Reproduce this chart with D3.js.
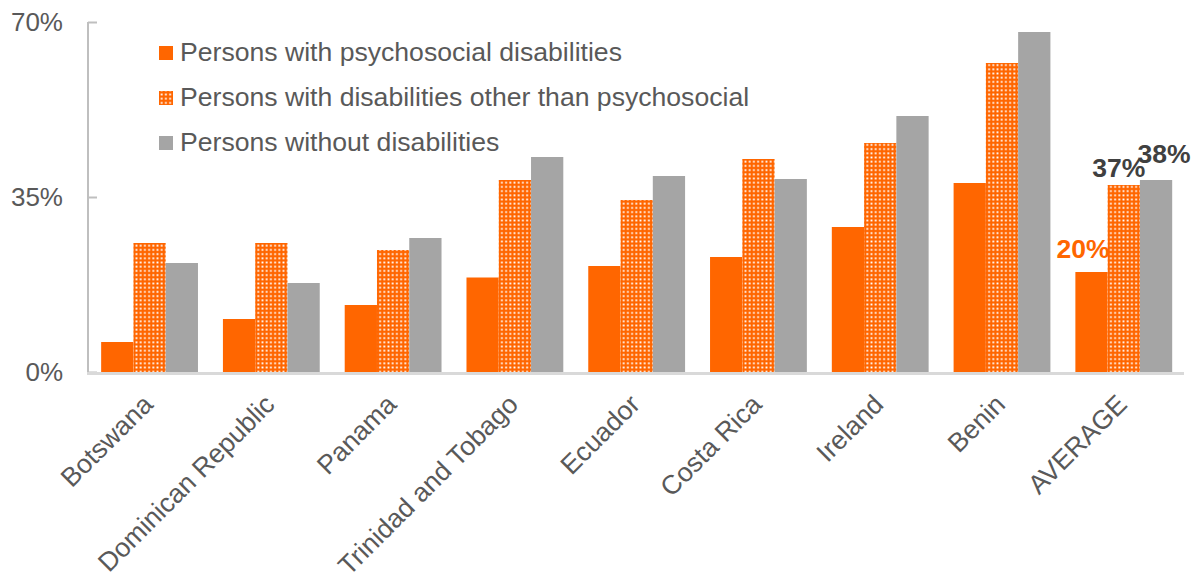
<!DOCTYPE html>
<html>
<head>
<meta charset="utf-8">
<script src="https://cdn.jsdelivr.net/npm/d3@7"></script>
<style>
  html, body { margin: 0; padding: 0; background: #fff; }
  svg { display: block; font-family: "Liberation Sans", Arial, sans-serif; }
</style>
</head>
<body>
<svg id="chart" width="1195" height="574"></svg>
<script>
const categories = ["Botswana", "Dominican Republic", "Panama", "Trinidad and Tobago", "Ecuador", "Costa Rica", "Ireland", "Benin", "AVERAGE"];
const seriesNames = ["Persons with psychosocial disabilities", "Persons with disabilities other than psychosocial", "Persons without disabilities"];
const psychosocial = [6.0, 10.6, 13.4, 18.9, 21.2, 23.0, 29.0, 37.8, 20.0];
const otherDisab = [25.8, 25.8, 24.4, 38.4, 34.4, 42.6, 45.8, 61.8, 37.4];
const noDisab = [21.8, 17.8, 26.8, 43.0, 39.2, 38.6, 51.2, 68.0, 38.4];
const yTicks = [0, 35, 70];
const averageLabels = ["20%", "37%", "38%"];

const series = [psychosocial, otherDisab, noDisab];
const svg = d3.select("#chart");

const defs = svg.append("defs");
const pat = defs.append("pattern").attr("id", "dots").attr("patternUnits", "userSpaceOnUse")
  .attr("width", 4.2).attr("height", 4.2);
pat.append("rect").attr("width", 4.2).attr("height", 4.2).attr("fill", "#ff6600");
pat.append("rect").attr("x", 1.2).attr("y", 1.2).attr("width", 1.8).attr("height", 1.8).attr("fill", "#ffffff");

const fills = ["#ff6600", "url(#dots)", "#a5a5a5"];

const x0 = d3.scaleBand().domain(categories).range([88, 1184]);
const bw = x0.bandwidth();
const x1 = d3.scaleBand().domain([0, 1, 2]).range([bw * 0.108, bw * 0.903]);
const y = d3.scaleLinear().domain([0, 70]).range([372, 22]);

// bars
series.forEach((vals, si) => {
  svg.append("g").selectAll("rect").data(vals).join("rect")
    .attr("x", (d, i) => x0(categories[i]) + x1(si))
    .attr("width", x1.bandwidth())
    .attr("y", d => y(d))
    .attr("height", d => y(0) - y(d))
    .attr("fill", fills[si]);
});

// y axis
const yAxis = d3.axisRight(y).tickValues(yTicks).tickSize(9).tickFormat("");
const gy = svg.append("g").attr("transform", "translate(88,0)").call(yAxis);
gy.select(".domain").attr("stroke", "#bfbfbf").attr("stroke-width", 2).attr("d", `M0,${y(70)}V${y(0)}`);
gy.selectAll(".tick line").attr("stroke", "#bfbfbf").attr("stroke-width", 2);

svg.append("g").selectAll("text").data(yTicks).join("text")
  .attr("x", 63).attr("y", d => y(d)).attr("dy", "0.35em")
  .attr("text-anchor", "end").attr("font-size", 26).attr("fill", "#595959")
  .text(d => d + "%");

// x axis
const xAxis = d3.axisBottom(x0).tickSize(0).tickFormat("");
const gx = svg.append("g").attr("transform", `translate(0,${y(0) + 1.5})`).call(xAxis);
gx.select(".domain").attr("stroke", "#d9d9d9").attr("stroke-width", 3).attr("d", `M87,0H1184`);

svg.append("g").selectAll("text").data(categories).join("text")
  .attr("transform", d => `translate(${x0(d) + bw / 2 + 5.5},${y(0) + 34}) rotate(-45)`)
  .attr("text-anchor", "end").attr("font-size", 26.6).attr("fill", "#595959")
  .text(d => d);

// legend
const lg = svg.append("g");
seriesNames.forEach((name, i) => {
  const cy = 53 + i * 45;
  lg.append("rect").attr("x", 159).attr("y", cy - 7).attr("width", 14).attr("height", 14).attr("fill", fills[i]);
  lg.append("text").attr("x", 180).attr("y", cy + 8)
    .attr("font-size", 26.6).attr("fill", "#595959").text(name);
});

// average labels
const avg = categories[categories.length - 1];
const labColors = ["#ff6600", "#404040", "#404040"];
const labDx = [-8.5, -5, 8];
const labDy = [-14, -8, -17];
series.forEach((vals, si) => {
  const v = vals[vals.length - 1];
  svg.append("text")
    .attr("x", x0(avg) + x1(si) + x1.bandwidth() / 2 + labDx[si])
    .attr("y", y(v) + labDy[si])
    .attr("text-anchor", "middle").attr("font-size", 26.5).attr("font-weight", "bold")
    .attr("fill", labColors[si]).text(averageLabels[si]);
});
</script>
</body>
</html>
